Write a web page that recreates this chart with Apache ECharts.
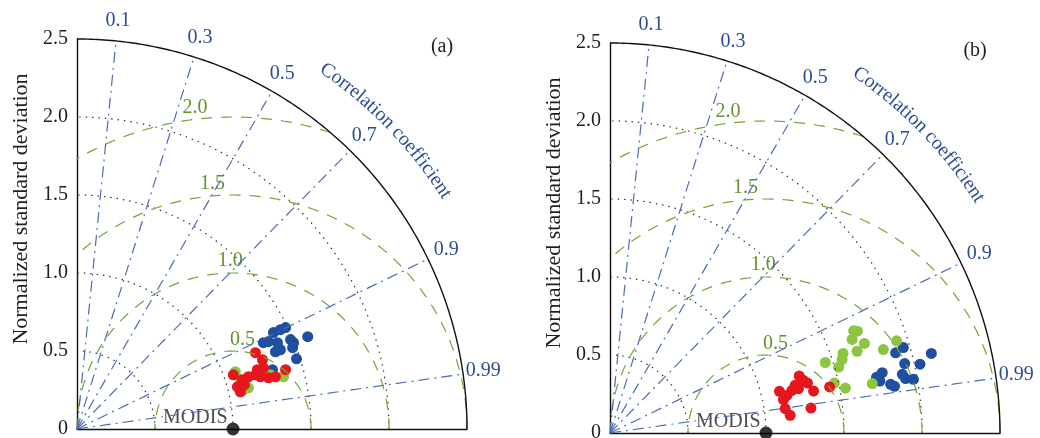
<!DOCTYPE html>
<html>
<head>
<meta charset="utf-8">
<script src="https://cdn.jsdelivr.net/npm/echarts@6/dist/echarts.min.js"></script>
<style>
  html, body { margin: 0; padding: 0; background: #fff; }
  #chart { width: 1040px; height: 438px; }
</style>
</head>
<body>
<div id="chart"></div>
<script>
// ---- Taylor diagram reference values ----
const stdTicks = [0, 0.5, 1.0, 1.5, 2.0, 2.5];   // normalized standard deviation axis
const stdRings = [0.5, 1.0, 1.5, 2.0];           // dotted std-dev arcs
const rmsRings = [0.5, 1.0, 1.5, 2.0];           // centred RMS difference arcs (around MODIS)
const corrTicks = [0.1, 0.3, 0.5, 0.7, 0.9, 0.99];
const stdMax = 2.5;
const refPoint = [1.0, 0];                        // MODIS: std = 1, R = 1
const panelTags = ['(a)', '(b)'];

// Model points, given as [std·R, std·sqrt(1−R²)]
const aBlue = [[1.227,0.560],[1.259,0.618],[1.304,0.637],[1.337,0.650],[1.285,0.553],[1.304,0.508],
  [1.272,0.495],[1.369,0.573],[1.388,0.553],[1.382,0.521],[1.479,0.592],[1.407,0.450],[1.253,0.380],[1.195,0.553]];
const aGreen = [[1.015,0.367],[1.099,0.264],[1.067,0.251],[1.240,0.347],[1.324,0.335],[1.047,0.315],[1.189,0.380]];
const aRed = [[1.144,0.489],[1.189,0.444],[1.195,0.392],[1.144,0.347],[1.099,0.335],[1.060,0.315],[1.002,0.347],
  [1.028,0.270],[1.047,0.238],[1.156,0.380],[1.176,0.335],[1.227,0.328],[1.272,0.335],[1.337,0.380],[1.073,0.283]];

const bBlue = [[1.880,0.548],[1.831,0.514],[2.060,0.510],[1.889,0.445],[1.987,0.441],[1.745,0.387],[1.874,0.376],
  [1.895,0.349],[1.945,0.344],[1.730,0.333],[1.799,0.312],[1.824,0.299],[1.708,0.357]];
const bGreen = [[1.562,0.655],[1.586,0.653],[1.552,0.600],[1.631,0.574],[1.584,0.524],[1.494,0.510],[1.488,0.471],
  [1.466,0.423],[1.380,0.452],[1.752,0.535],[1.837,0.591],[1.438,0.320],[1.509,0.288],[1.681,0.317]];
const bRed = [[1.213,0.366],[1.266,0.320],[1.305,0.269],[1.208,0.284],[1.166,0.273],[1.134,0.241],[1.086,0.267],
  [1.112,0.214],[1.123,0.156],[1.155,0.113],[1.288,0.160],[1.408,0.295],[1.187,0.306],[1.239,0.338]];

const panels = [
  { blue: aBlue, green: aGreen, red: aRed },
  { blue: bBlue, green: bGreen, red: bRed }
];

// ---- layout & styles ----
const grids = [
  { left: 77, top: 39, width: 390, height: 390 },
  { left: 610, top: 43, width: 390, height: 390 }
];
const SERIF = '"Liberation Serif", "DejaVu Serif", serif';
const FONT = '20px ' + SERIF;
const TITLE_FONT = '22px ' + SERIF;
const C_TEXT = '#1e1e1e';
const C_BLUE_TXT = '#2c4d95';
const C_BLUE_LN = '#4c6db2';
const C_GREEN_LN = '#7ba23a';
const C_GREEN_TXT = '#66902c';
const DOT = { blue: '#1f4fa0', green: '#8dc540', red: '#e5161c' };
const rmsLabelAngle = [83, 91, 95, 97];   // where each RMS label sits on its arc (deg)
const corrLabelR = 2.63;
const titleR = 2.80;
const titleCenterDeg = 44;

const deg = Math.PI / 180;

function arcPoints(cx, cy, r, a0, a1) {
  const pts = [];
  const n = Math.max(8, Math.ceil(Math.abs(a1 - a0) / 0.25));
  for (let i = 0; i <= n; i++) {
    const a = (a0 + (a1 - a0) * i / n) * deg;
    pts.push([cx + r * Math.cos(a), cy + r * Math.sin(a)]);
  }
  return pts;
}

// angular range of an RMS arc kept inside the quarter disc
function rmsRange(r) {
  const xOuter = (stdMax * stdMax + 1 - r * r) / 2;
  const aMin = xOuter >= 1 + r ? 0 : Math.acos((xOuter - 1) / r) / deg;
  const aMax = r <= 1 ? 180 : Math.acos(-1 / r) / deg;
  return [aMin, aMax];
}

const series = [];
panels.forEach((p, gi) => {
  const base = { type: 'line', xAxisIndex: gi, yAxisIndex: gi, symbol: 'none', silent: true, clip: false, animation: false };
  stdRings.forEach(r => series.push(Object.assign({}, base, {
    data: arcPoints(0, 0, r, 0, 90),
    lineStyle: { color: '#2a2a2a', width: 1.2, type: [1.4, 5] }
  })));
  rmsRings.forEach(r => {
    const [a0, a1] = rmsRange(r);
    series.push(Object.assign({}, base, {
      data: arcPoints(refPoint[0], refPoint[1], r, a0, a1),
      lineStyle: { color: C_GREEN_LN, width: 1.2, type: [11, 9] }
    }));
  });
  corrTicks.forEach(c => series.push(Object.assign({}, base, {
    data: [[0, 0], [stdMax * c, stdMax * Math.sqrt(1 - c * c)]],
    lineStyle: { color: C_BLUE_LN, width: 1.2, type: [11, 5, 2, 5] }
  })));
  series.push(Object.assign({}, base, {
    data: arcPoints(0, 0, stdMax, 0, 90),
    lineStyle: { color: '#111', width: 1.4, type: 'solid' }
  }));
  ['blue', 'green', 'red'].forEach(k => series.push({
    type: 'scatter', xAxisIndex: gi, yAxisIndex: gi, data: p[k], symbolSize: 11, clip: false,
    itemStyle: { color: DOT[k], opacity: 1 }, silent: true, animation: false
  }));
  series.push({
    type: 'scatter', xAxisIndex: gi, yAxisIndex: gi, data: [refPoint], symbolSize: 13, clip: false,
    itemStyle: { color: '#000' }, silent: true, animation: false,
    label: { show: true, formatter: 'MODIS', position: 'left', distance: 0, offset: [1, -11],
      color: C_TEXT, fontFamily: SERIF, fontSize: 20 }
  });
});

const xAxes = grids.map((g, gi) => ({
  type: 'value', gridIndex: gi, min: 0, max: stdMax, interval: 0.5,
  axisLine: { show: true, onZero: false, lineStyle: { color: '#111', width: 1.4 } },
  axisTick: { show: false }, axisLabel: { show: false }, splitLine: { show: false }
}));
const yAxes = grids.map((g, gi) => ({
  type: 'value', gridIndex: gi, min: 0, max: stdMax, interval: 0.5,
  axisLine: { show: true, onZero: false, lineStyle: { color: '#111', width: 1.4 } },
  axisTick: { show: false }, splitLine: { show: false },
  axisLabel: { margin: 9, color: C_TEXT, fontFamily: SERIF, fontSize: 20,
    formatter: v => (v === 0 ? '0' : v.toFixed(1)) }
}));

const chart = echarts.init(document.getElementById('chart'), null, { renderer: 'canvas' });
chart.setOption({
  animation: false,
  grid: grids.map(g => Object.assign({ containLabel: false, outerBoundsMode: 'none' }, g)),
  xAxis: xAxes,
  yAxis: yAxes,
  series: series
});

// ---- text placed through the axes' own coordinate conversion ----
const measure = document.createElement('canvas').getContext('2d');
measure.font = FONT;
const graphics = [];
grids.forEach((g, gi) => {
  const toPx = xy => chart.convertToPixel({ gridIndex: gi }, xy);
  const o = toPx([0, 0]);
  const unit = toPx([1, 0])[0] - o[0];

  // correlation tick labels
  corrTicks.forEach(c => {
    const pt = toPx([corrLabelR * c, corrLabelR * Math.sqrt(1 - c * c)]);
    graphics.push({ type: 'text', x: pt[0], y: pt[1], silent: true,
      style: { text: String(c), font: FONT, fill: C_BLUE_TXT, align: 'center', verticalAlign: 'middle' } });
  });

  // RMS labels
  rmsRings.forEach((r, i) => {
    const a = rmsLabelAngle[i] * deg;
    const pt = toPx([refPoint[0] + r * Math.cos(a), refPoint[1] + r * Math.sin(a)]);
    graphics.push({ type: 'text', x: pt[0], y: pt[1] - 12, silent: true,
      style: { text: r.toFixed(1), font: FONT, fill: C_GREEN_TXT, align: 'center', verticalAlign: 'middle' } });
  });

  // curved "Correlation coefficient" title along the outer arc
  const title = 'Correlation coefficient';
  const widths = Array.from(title).map(ch => measure.measureText(ch).width);
  const total = widths.reduce((s, w) => s + w, 0);
  const Rpx = titleR * unit;
  let a = titleCenterDeg * deg + (total / 2) / Rpx;
  Array.from(title).forEach((ch, i) => {
    const ac = a - (widths[i] / 2) / Rpx;
    const px = o[0] + Rpx * Math.cos(ac);
    const py = o[1] - Rpx * Math.sin(ac);
    graphics.push({ type: 'text', x: px, y: py, rotation: ac - Math.PI / 2, silent: true,
      style: { text: ch, font: FONT, fill: C_BLUE_TXT, align: 'center', verticalAlign: 'middle' } });
    a -= widths[i] / Rpx;
  });

  // y-axis title
  graphics.push({ type: 'text', x: o[0] - 56, y: o[1] - 220, rotation: Math.PI / 2, silent: true,
    style: { text: 'Normalized standard deviation', font: TITLE_FONT, fill: C_TEXT, align: 'center', verticalAlign: 'middle' } });

  // panel tag
  const tag = toPx([2.34, 2.45]);
  graphics.push({ type: 'text', x: tag[0], y: tag[1], silent: true,
    style: { text: panelTags[gi], font: FONT, fill: C_TEXT, align: 'center', verticalAlign: 'middle' } });
});
chart.setOption({ graphic: graphics });
</script>
</body>
</html>
